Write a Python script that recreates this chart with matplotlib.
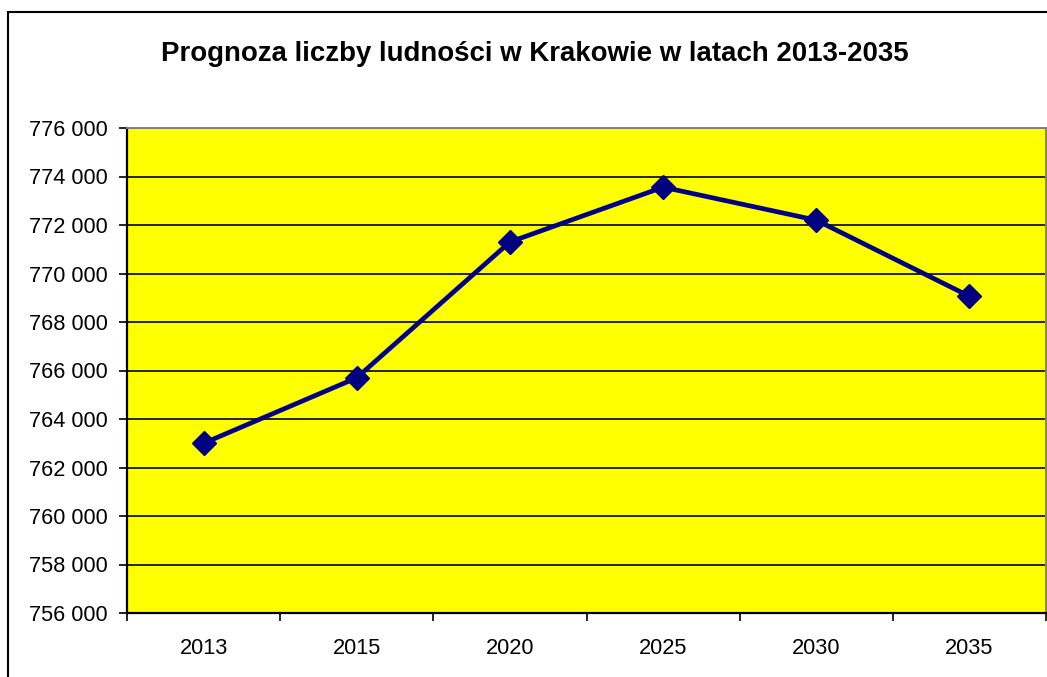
import matplotlib
matplotlib.use("Agg")
import matplotlib.pyplot as plt
import matplotlib.ticker as mticker
from matplotlib.patches import Rectangle
import numpy as np

# Forecast population of Kraków
years = ["2013", "2015", "2020", "2025", "2030", "2035"]
population = [763000, 765700, 771300, 773560, 772200, 769060]

y_min, y_max, y_step = 756000, 776000, 2000

plt.rcParams["font.family"] = ["Liberation Sans", "DejaVu Sans"]

W, H = 1047, 677
fig = plt.figure(figsize=(W / 100, H / 100), dpi=100)
fig.patch.set_facecolor("white")

# plot area in pixel terms
left, right, top, bottom = 127, 1046, 128, 613
ax = fig.add_axes([left / W, 1 - bottom / H, (right - left) / W, (bottom - top) / H])
ax.set_facecolor("#FFFF00")

x = np.arange(len(years))
ax.plot(x, population, color="#000080", lw=3.4, marker="D", ms=12,
        mfc="#000080", mec="#000080", mew=1, zorder=5, clip_on=False)

ax.set_xlim(-0.5, len(years) - 0.5)
ax.set_ylim(y_min, y_max)

# category ticks sit between categories, labels in the middle
ax.set_xticks(np.arange(-0.5, len(years), 1.0))
ax.set_xticklabels([])
ax.set_xticks(x, minor=True)
ax.set_xticklabels(years, minor=True)
ax.tick_params(axis="x", which="major", direction="out", length=6, width=1.2, color="black")
ax.tick_params(axis="x", which="minor", length=0, pad=18, labelsize=15.7)

ax.set_yticks(np.arange(y_min, y_max + 1, y_step))
ax.yaxis.set_major_formatter(mticker.FuncFormatter(lambda v, p: f"{int(v):,}".replace(",", " ")))
ax.tick_params(axis="y", direction="out", length=6, width=1.2, color="black",
               pad=8, labelsize=15.7)

ax.grid(axis="y", color="black", lw=1.2)
ax.set_axisbelow(True)

for side in ("left", "bottom"):
    ax.spines[side].set_color("black")
    ax.spines[side].set_linewidth(1.6)
for side in ("top", "right"):
    ax.spines[side].set_color("#808080")
    ax.spines[side].set_linewidth(1.4)

# chart frame (runs off the right and bottom of the canvas)
fig.add_artist(Rectangle((8 / W, -0.1), 1.2, 1 - 12 / H + 0.1, transform=fig.transFigure,
                         fill=False, ec="black", lw=1.5, clip_on=False))

fig.text(535 / W, 1 - 61 / H, "Prognoza liczby ludności w Krakowie w latach 2013-2035",
         ha="center", va="baseline", fontsize=19.9, fontweight="bold")

fig.savefig("out.png", dpi=100)
